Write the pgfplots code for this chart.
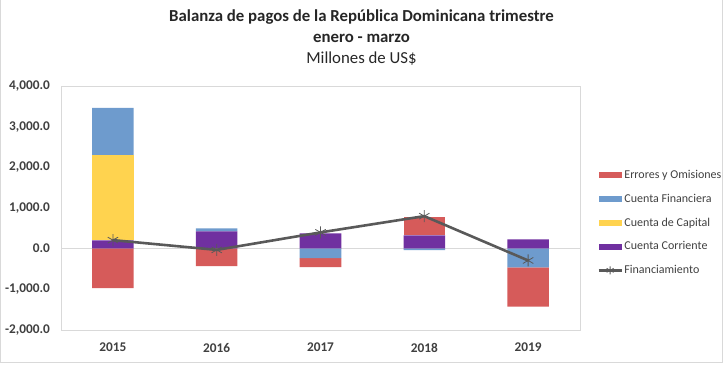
\documentclass[border=0pt]{standalone}
\usepackage{pgfplots}
\pgfplotsset{compat=1.18}
\usepackage{pgfplotstable}
\usepackage{fontspec}
\setmainfont{Carlito}
\definecolor{errc}{HTML}{D65B5A}
\definecolor{finc}{HTML}{6E9BCD}
\definecolor{capc}{HTML}{FFD34F}
\definecolor{corc}{HTML}{7030A0}
\definecolor{linec}{HTML}{595959}
\definecolor{framec}{HTML}{D9D9D9}
\definecolor{txtc}{HTML}{404040}

% positive parts
\pgfplotstableread{
x corr cap fin err
0 205 2095 1164 0
1 427 0 74 0
2 378 0 0 0
3 328 0 0 445
4 230 0 0 0
}\pos
% negative parts
\pgfplotstableread{
x fin err
0 0 -973
1 0 -430
2 -232 -222
3 -35 0
4 -462 -963
}\negs
\pgfplotstableread{
x fin
0 210
1 -30
2 400
3 800
4 -290
}\finan

\pgfplotsset{
  base/.style={
    scale only axis, width=519bp, height=244bp,
    xmin=-0.5, xmax=4.5, ymin=-2000, ymax=4000,
    at={(61bp,-330bp)}, anchor=south west,
  },
  barimg/.style={legend image code/.code={\path[draw=none, fill=#1] (0bp,-3bp) rectangle (23bp,3bp);}},
}

\begin{document}
\begin{tikzpicture}
\path[use as bounding box] (0,0) rectangle (723bp,-366bp);
\draw[framec, line width=0.8bp] (0.5bp,0) -- (0.5bp,-362.5bp) -- (722bp,-362.5bp) -- (722bp,0);

\node[font=\fontsize{16.8bp}{19bp}\bfseries\selectfont, text=black!85] at (361.5bp,-17bp) {Balanza de pagos de la República Dominicana trimestre};
\node[font=\fontsize{16.8bp}{19bp}\bfseries\selectfont, text=black!85] at (361.5bp,-38bp) {enero - marzo};
\node[font=\fontsize{16.8bp}{19bp}\selectfont, text=black!85] at (361.5bp,-59bp) {Millones de US\$};

\begin{axis}[base,
  ybar stacked, bar width=0.4,
  axis line style={draw=framec, line width=0.8bp},
  major tick length=0,
  ytick={-2000,-1000,...,4000},
  xtick={0,1,2,3,4}, xticklabels={2015,2016,2017,2018,2019},
  /pgf/number format/assume math mode=true,
  yticklabel={\pgfmathprintnumber[fixed, fixed zerofill, precision=1, 1000 sep={,}]{\tick}},
  yticklabel style={font=\fontsize{13.3bp}{15bp}\bfseries\selectfont, text=txtc, inner sep=0pt, xshift=-11bp},
  xticklabel style={font=\fontsize{13.3bp}{15bp}\bfseries\selectfont, text=txtc, inner sep=0pt, yshift=-13bp},
  extra y ticks={0}, extra y tick labels={},
  extra y tick style={grid=major, major grid style={draw=framec, line width=1bp}},
]
\addplot[fill=corc, draw=none] table[x=x, y=corr] {\pos};
\addplot[fill=capc, draw=none] table[x=x, y=cap] {\pos};
\addplot[fill=finc, draw=none] table[x=x, y=fin] {\pos};
\addplot[fill=errc, draw=none] table[x=x, y=err] {\pos};
\end{axis}

\begin{axis}[base, hide axis, ybar stacked, bar width=0.4]
\addplot[fill=finc, draw=none] table[x=x, y=fin] {\negs};
\addplot[fill=errc, draw=none] table[x=x, y=err] {\negs};
\end{axis}

\begin{axis}[base, hide axis,
  legend style={at={(1.033,0.655)}, anchor=north west, draw=none, fill=none,
    font=\fontsize{12bp}{14bp}\selectfont, text=txtc, row sep=14bp,
    inner xsep=0pt, inner ysep=0pt,
    nodes={inner xsep=1.5bp, inner ysep=0pt}},
  legend cell align=left,
]
\addlegendimage{barimg=errc}
\addlegendentry{Errores y Omisiones}
\addlegendimage{barimg=finc}
\addlegendentry{Cuenta Financiera}
\addlegendimage{barimg=capc}
\addlegendentry{Cuenta de Capital}
\addlegendimage{barimg=corc}
\addlegendentry{Cuenta Corriente}
\addplot[color=linec, line width=2.6bp, mark=asterisk, mark size=6bp,
  mark options={line width=0.8bp, color=linec},
  legend image code/.code={\draw[mark repeat=2, mark phase=2, mark size=4bp] plot coordinates {(0bp,0bp)(11.5bp,0bp)(23bp,0bp)};}]
  table[x=x, y=fin] {\finan};
\addlegendentry{Financiamiento}
\end{axis}
\end{tikzpicture}
\end{document}
